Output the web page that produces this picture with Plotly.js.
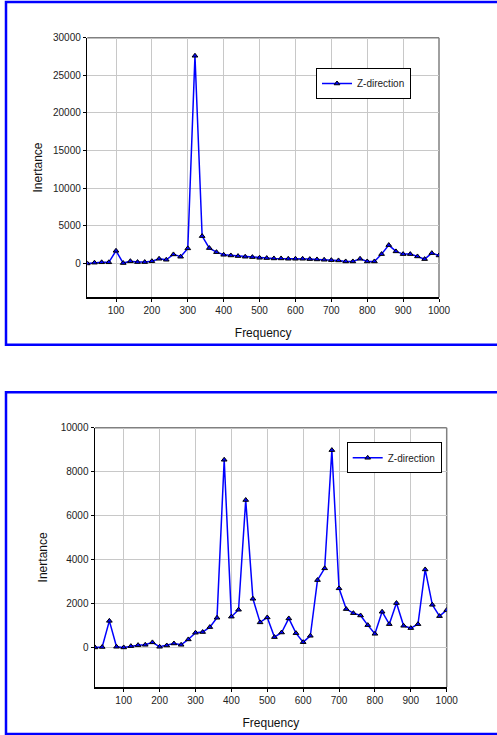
<!DOCTYPE html>
<html>
<head>
<meta charset="utf-8">
<script src="https://cdn.plot.ly/plotly-3.0.1.min.js"></script>
<style>html,body{margin:0;padding:0;background:#fff;}#chart{width:497px;height:735px;}</style>
</head>
<body>
<div id="chart"></div>
<script>
const frequency = [20,40,60,80,100,120,140,160,180,200,220,240,260,280,300,320,340,360,380,400,
  420,440,460,480,500,520,540,560,580,600,620,640,660,680,700,720,740,760,780,800,
  820,840,860,880,900,920,940,960,980,1000];
const inertanceTop = [0,100,150,150,1680,50,300,180,180,300,620,490,1200,890,2000,27600,3630,2040,1500,1150,
  1060,975,890,840,750,710,665,665,620,620,620,575,530,490,440,400,265,265,620,265,
  265,1240,2440,1600,1240,1240,930,575,1370,1060];
const inertanceBottom = [0,20,1210,30,0,60,105,120,230,30,90,180,120,365,670,700,925,1350,8540,1400,
  1715,6710,2215,1140,1365,470,680,1320,650,240,530,3065,3600,8980,2690,1745,1560,1455,1015,620,
  1625,1060,2020,985,880,1060,3550,1940,1425,1700];
const seriesName = 'Z-direction';
const xTicks = [100,200,300,400,500,600,700,800,900,1000];
const yTicksTop = [0,5000,10000,15000,20000,25000,30000];
const yTicksBottom = [0,2000,4000,6000,8000,10000];

const W = 497, H = 735;
const px = v => v / W;
const py = v => 1 - v / H;
const FONT = 'Liberation Sans, Arial, sans-serif';

function trace(y, xa, ya, leg) {
  return {
    x: frequency, y: y, xaxis: xa, yaxis: ya, legend: leg,
    type: 'scatter', mode: 'lines+markers', name: seriesName,
    line: {color: '#0000ff', width: 1.5},
    marker: {symbol: 'triangle-up', size: 5, color: '#0000ff', line: {color: '#000', width: 1}}
  };
}

function xaxis(dom, anchor) {
  return {
    domain: dom, anchor: anchor, range: [20, 1000],
    tickvals: xTicks, tickformat: 'd', ticks: 'outside', ticklen: 3, tickcolor: '#000',
    showgrid: true, gridcolor: '#c8c8c8', gridwidth: 1, zeroline: false,
    showline: true, linecolor: '#000', linewidth: 1.5,
    tickfont: {family: FONT, size: 10, color: '#222'},
    title: {text: 'Frequency', font: {family: FONT, size: 12, color: '#111'}, standoff: 14}
  };
}
function yaxis(dom, anchor, range, ticks, standoff) {
  return {
    domain: dom, anchor: anchor, range: range,
    tickvals: ticks, tickformat: 'd', ticks: 'outside', ticklen: 3, tickcolor: '#000',
    showgrid: true, gridcolor: '#c8c8c8', gridwidth: 1, zeroline: false,
    showline: true, linecolor: '#000', linewidth: 1.5,
    tickfont: {family: FONT, size: 10, color: '#222'},
    title: {text: 'Inertance', font: {family: FONT, size: 12, color: '#111'}, standoff: standoff}
  };
}

const d1x = [px(87.3), px(439)], d1y = [py(297.3), py(37.7)];
const d2x = [px(95), px(446.7)], d2y = [py(687), py(427.7)];

const layout = {
  width: W, height: H, margin: {l: 0, r: 0, t: 0, b: 0},
  paper_bgcolor: '#fff', plot_bgcolor: '#fff', showlegend: true,
  xaxis: xaxis(d1x, 'y'),
  yaxis: yaxis(d1y, 'x', [-4500, 30000], yTicksTop, 8),
  xaxis2: xaxis(d2x, 'y2'),
  yaxis2: yaxis(d2y, 'x2', [-1800, 10000], yTicksBottom, 10),
  legend: {x: px(316), y: py(68), xanchor: 'left', yanchor: 'top', bgcolor: '#fff',
    bordercolor: '#000', borderwidth: 1, font: {family: FONT, size: 10, color: '#222'}},
  legend2: {x: px(346.7), y: py(442.3), xanchor: 'left', yanchor: 'top', bgcolor: '#fff',
    bordercolor: '#000', borderwidth: 1, font: {family: FONT, size: 10, color: '#222'}},
  shapes: [
    {type: 'rect', xref: 'paper', yref: 'paper', x0: px(6), x1: px(520), y0: py(2), y1: py(344.7),
      line: {color: '#0000ff', width: 2.5}, layer: 'below'},
    {type: 'rect', xref: 'paper', yref: 'paper', x0: px(6), x1: px(520), y0: py(392.3), y1: py(734),
      line: {color: '#0000ff', width: 2.5}, layer: 'below'},
    {type: 'line', xref: 'paper', yref: 'paper', x0: d1x[0], x1: d1x[1], y0: d1y[1], y1: d1y[1],
      line: {color: '#808080', width: 1.5}, layer: 'below'},
    {type: 'line', xref: 'paper', yref: 'paper', x0: d1x[1], x1: d1x[1], y0: d1y[0], y1: d1y[1],
      line: {color: '#808080', width: 1.5}, layer: 'below'},
    {type: 'line', xref: 'paper', yref: 'paper', x0: d2x[0], x1: d2x[1], y0: d2y[1], y1: d2y[1],
      line: {color: '#808080', width: 1.5}, layer: 'below'},
    {type: 'line', xref: 'paper', yref: 'paper', x0: d2x[1], x1: d2x[1], y0: d2y[0], y1: d2y[1],
      line: {color: '#808080', width: 1.5}, layer: 'below'}
  ]
};

Plotly.newPlot('chart', [trace(inertanceTop, 'x', 'y', 'legend'), trace(inertanceBottom, 'x2', 'y2', 'legend2')],
  layout, {displayModeBar: false, staticPlot: true});
</script>
</body>
</html>
